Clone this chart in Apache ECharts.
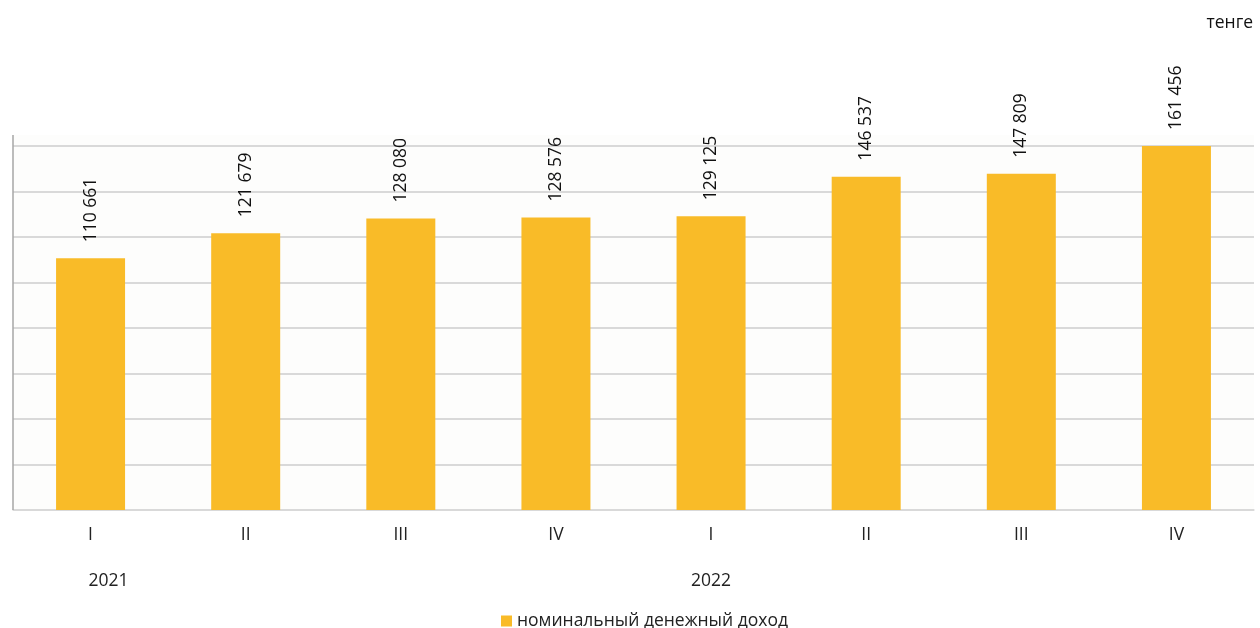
<!DOCTYPE html>
<html><head><meta charset="utf-8">
<script src="https://cdn.jsdelivr.net/npm/echarts@6/dist/echarts.min.js"></script>
<style>html,body{margin:0;padding:0;background:#fff}#c{width:1260px;height:628px}</style>
</head><body><div id="c"></div>
<script>
var quarters = ['I','II','III','IV','I','II','III','IV'];
var years = ['2021','','','','2022','','',''];
var income = [110661, 121679, 128080, 128576, 129125, 146537, 147809, 161456];
var seriesName = 'номинальный денежный доход';
var unitLabel = 'тенге';

var chart = echarts.init(document.getElementById('c'));
var font = '"Open Sans", "Liberation Sans", sans-serif';
var fs = 17.5;
function fmt(v){ return String(v).replace(/\B(?=(\d{3})+(?!\d))/g, ' '); }
chart.setOption({
  backgroundColor: '#ffffff',
  textStyle: {fontFamily: font},
  title: {text: unitLabel, right: 2, top: 9, textStyle: {fontSize: fs, fontWeight: 'normal', color: '#111', fontFamily: font}},
  graphic: [
    {type: 'rect', z: -10, shape: {x: 13, y: 135, width: 1241, height: 375}, style: {fill: '#fdfdfc'}},
    {type: 'line', z: 10, shape: {x1: 13, y1: 135, x2: 13, y2: 510}, style: {stroke: '#a6a6a6', lineWidth: 1.5}}
  ],
  legend: {top: 607, left: 496, itemWidth: 11, itemHeight: 11, icon: 'rect', itemGap: 7,
    textStyle: {fontSize: fs, color: '#222', fontFamily: font}, data: [seriesName]},
  grid: {left: 13, right: 6, top: 146, bottom: 118, containLabel: false},
  xAxis: [
    {type: 'category', data: quarters, position: 'bottom',
      axisLine: {show: true, lineStyle: {color: '#d9d9d9', width: 1.5}}, axisTick: {show: false},
      axisLabel: {fontSize: fs, color: '#222', margin: 16, fontFamily: font}},
    {type: 'category', data: years, position: 'bottom', offset: 46,
      axisLine: {show: false}, axisTick: {show: false},
      axisLabel: {fontSize: fs, color: '#222', margin: 16, fontFamily: font, interval: 0,
        formatter: function(v, i){ return i === 0 ? '{a|' + v + '}' : v; },
        rich: {a: {fontSize: fs, color: '#222', fontFamily: font, padding: [0, 0, 0, 36]}}}}
  ],
  yAxis: {type: 'value', min: 0, max: 160000, interval: 20000,
    axisLine: {show: false}, axisTick: {show: false}, axisLabel: {show: false},
    splitLine: {show: true, lineStyle: {color: '#d9d9d9', width: 2}}},
  series: [{
    name: seriesName, type: 'bar', data: income, barWidth: 69, xAxisIndex: 0,
    itemStyle: {color: '#f9bb28'},
    label: {show: true, position: 'top', rotate: 90, align: 'left', verticalAlign: 'middle', distance: 16,
      fontSize: fs, color: '#111', fontFamily: font, formatter: function(p){ return fmt(p.value); }}
  }]
});
</script></body></html>
